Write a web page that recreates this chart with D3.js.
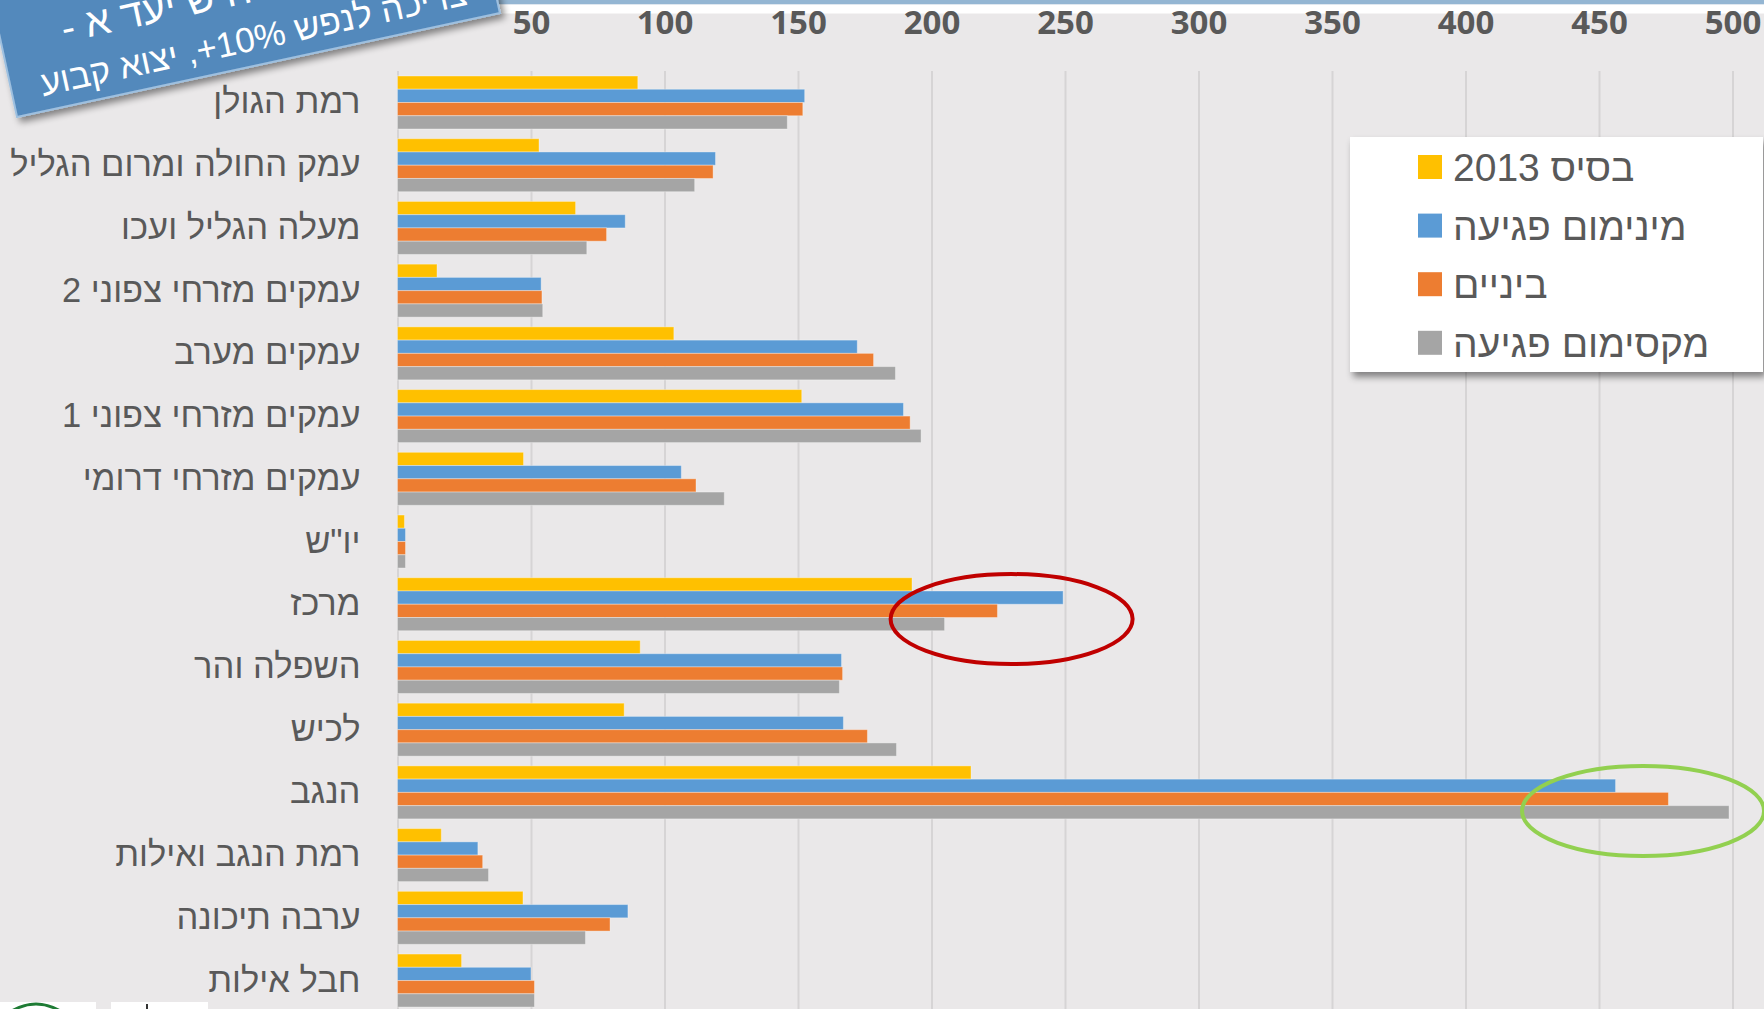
<!DOCTYPE html>
<html><head><meta charset="utf-8">
<script src="https://cdn.jsdelivr.net/npm/d3@7"></script>
<style>html,body{margin:0;padding:0;background:#EAE8E9;overflow:hidden}</style>
</head><body>
<svg id="chart" width="1764" height="1009"></svg>
<script>
const categories = ["רמת הגולן","עמק החולה ומרום הגליל","מעלה הגליל ועכו","עמקים מזרחי צפוני 2","עמקים מערב","עמקים מזרחי צפוני 1","עמקים מזרחי דרומי","יו\"ש","מרכז","השפלה והר","לכיש","הנגב","רמת הנגב ואילות","ערבה תיכונה","חבל אילות"];
const seriesNames = ["בסיס 2013","מינימום פגיעה","ביניים","מקסימום פגיעה"];
const base2013  = [90, 53, 66.7, 14.8, 103.5, 151.4, 47.2, 2.6, 192.7, 90.9, 84.9, 214.8, 16.4, 47, 24];
const minImpact = [152.5, 119.1, 85.3, 53.8, 172.2, 189.5, 106.3, 3.0, 249.3, 166.3, 167, 456.2, 30.1, 86.3, 50];
const midImpact = [151.8, 118.2, 78.3, 54.1, 178.3, 192, 111.8, 3.0, 224.7, 166.7, 176, 476, 31.9, 79.6, 51.3];
const maxImpact = [146, 111.3, 70.9, 54.4, 186.5, 196.1, 122.4, 3.0, 204.9, 165.5, 186.9, 498.7, 34.1, 70.4, 51.3];
const tickValues = [0, 50, 100, 150, 200, 250, 300, 350, 400, 450, 500];
const bannerLine1 = "תרחיש יעד א -\u200F";
const bannerLine2 = "צריכה לנפש 10%+, יצוא קבוע";

const colors = ["#FFC000", "#5B9BD5", "#ED7D31", "#A5A5A5"];
const seriesData = [base2013, minImpact, midImpact, maxImpact];

const W = 1764, H = 1009;
const svg = d3.select("#chart");
const defs = svg.append("defs");
const sh = defs.append("filter").attr("id","shadow").attr("x","-10%").attr("y","-10%").attr("width","130%").attr("height","140%");
sh.append("feDropShadow").attr("dx",3).attr("dy",5).attr("stdDeviation",3.5).attr("flood-color","#000").attr("flood-opacity",0.45);

svg.append("rect").attr("width",W).attr("height",H).attr("fill","#EAE8E9");
// top strip
svg.append("rect").attr("x",0).attr("y",0).attr("width",W).attr("height",4.5).attr("fill","#94B6D3");
svg.append("rect").attr("x",0).attr("y",4.5).attr("width",W).attr("height",9).attr("fill","#FFFFFF");

const x = d3.scaleLinear().domain([0, 500]).range([397.5, 1732.5]);
const y = d3.scaleBand().domain(categories).range([71.14, 1011.9]).paddingInner(0.155).paddingOuter(0.0775);
const ySub = d3.scaleBand().domain(seriesNames).range([0, y.bandwidth()]);
const gridTop = 71;

// gridlines
const grid = svg.append("g").attr("transform", `translate(0,${gridTop})`)
  .call(d3.axisBottom(x).tickValues(tickValues).tickSize(H - gridTop).tickFormat(""));
grid.select(".domain").remove();
grid.selectAll("line").attr("stroke", "#D6D4D5").attr("stroke-width", 2);

// tick labels at top
const ax = svg.append("g").attr("transform", "translate(0,34)")
  .call(d3.axisTop(x).tickValues(tickValues).tickSize(0).tickPadding(0).tickFormat(d3.format("d")));
ax.select(".domain").remove();
ax.selectAll("text").attr("fill","#595959").attr("font-family","'Open Sans', 'DejaVu Sans', sans-serif")
  .attr("font-weight","bold").attr("font-size","33px").attr("dy","0");

// bars
const groups = svg.append("g").selectAll("g").data(categories).join("g")
  .attr("transform", d => `translate(0,${y(d)})`);
groups.selectAll("rect").data((d, i) => seriesNames.map((s, k) => ({s, k, v: seriesData[k][i]}))).join("rect")
  .attr("x", x(0)).attr("y", d => ySub(d.s)).attr("height", ySub.bandwidth())
  .attr("width", d => x(d.v) - x(0)).attr("fill", d => colors[d.k])
  .attr("stroke", "rgba(255,255,255,0.35)").attr("stroke-width", 1);

// category labels
svg.append("g").selectAll("text").data(categories).join("text")
  .attr("x", x(0) - 37).attr("y", d => y(d) + y.bandwidth()/2 + 11)
  .attr("text-anchor","end").attr("fill","#595959")
  .attr("font-family","'Liberation Sans', Arial, 'DejaVu Sans', sans-serif").attr("font-size","34.5px")
  .text(d => d);

// annotation ellipses
svg.append("ellipse").attr("cx", x(230)).attr("cy", y("מרכז") + y.bandwidth()*0.78)
  .attr("rx",121).attr("ry",45).attr("fill","none").attr("stroke","#C00000").attr("stroke-width",4);
svg.append("ellipse").attr("cx", x(466.5)).attr("cy", y("הנגב") + y.bandwidth()*0.85)
  .attr("rx",121).attr("ry",45).attr("fill","none").attr("stroke","#92D050").attr("stroke-width",4);

// legend
const lg = svg.append("g");
lg.append("rect").attr("x",1350).attr("y",137).attr("width",413).attr("height",235)
  .attr("fill","#FFFFFF").attr("filter","url(#shadow)");
const li = lg.selectAll("g").data(seriesNames).join("g")
  .attr("transform", (d,i) => `translate(1418,${167 + i*58.6})`);
li.append("rect").attr("x",0).attr("y",-12).attr("width",24).attr("height",24).attr("fill",(d,i)=>colors[i]);
li.append("text").attr("x",35).attr("y",14).attr("fill","#595959")
  .attr("font-family","'Liberation Sans', Arial, 'DejaVu Sans', sans-serif").attr("font-size","39px")
  .text(d => d);

// banner
const bn = svg.append("g").attr("transform","translate(17,117) rotate(-12.15)");
bn.append("rect").attr("x",0).attr("y",-220).attr("width",494).attr("height",220)
  .attr("fill","#5289BC").attr("stroke","#9DC0E0").attr("stroke-width",2).attr("filter","url(#shadow)");
bn.append("text").attr("x",62).attr("y",-63).attr("fill","#FFFFFF")
  .attr("font-family","'Liberation Sans', Arial, sans-serif").attr("font-size","40px").text(bannerLine1);
bn.append("text").attr("x",30).attr("y",-15).attr("fill","#FFFFFF")
  .attr("font-family","'Liberation Sans', Arial, sans-serif").attr("font-size","35px").text(bannerLine2);

// bottom-left logos (cut off)
svg.append("rect").attr("x",0).attr("y",1002).attr("width",96).attr("height",10).attr("fill","#FFFFFF");
svg.append("path").attr("d","M10,1012 Q36,996 62,1012").attr("fill","none").attr("stroke","#1E7B34").attr("stroke-width",3);
svg.append("rect").attr("x",111).attr("y",1002).attr("width",97).attr("height",10).attr("fill","#FFFFFF");
svg.append("rect").attr("x",146).attr("y",1004).attr("width",2).attr("height",6).attr("fill","#333");
</script>
</body></html>
